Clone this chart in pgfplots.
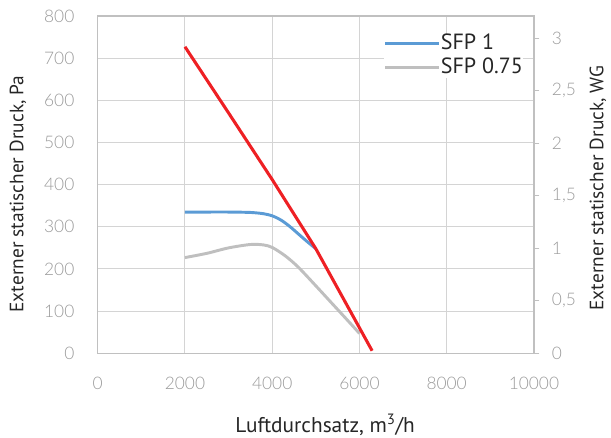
\documentclass[border=0pt]{standalone}
\usepackage{fontspec}
\setmainfont{PT Sans}
\newfontfamily\tickfont{Lato Light}
\usepackage{pgfplots}
\pgfplotsset{compat=1.18}
\definecolor{redline}{HTML}{EE2024}
\definecolor{blueline}{HTML}{5B9BD5}
\definecolor{grayline}{HTML}{BFBFBF}
\definecolor{gridc}{HTML}{D4D4D4}
\definecolor{framec}{HTML}{C0C0C0}
\definecolor{tickc}{HTML}{9A9A9A}
\definecolor{labc}{HTML}{262626}
\begin{document}
\begin{tikzpicture}
\pgfplotsset{
  base/.style={
    scale only axis, width=327.2pt, height=253pt,
    xmin=0, xmax=10000,
    /pgf/number format/assume math mode=true,
    /pgf/number format/1000 sep={},
    scaled ticks=false,
    ticklabel style={font=\tickfont\fontsize{13}{15}\selectfont, text=tickc},
    axis line style={framec, line width=0.9pt},
    label style={font=\fontsize{14.5}{16}\selectfont, text=labc},
  }
}
\begin{axis}[base,
  ymin=0, ymax=800,
  xtick={0,2000,...,10000},
  ytick={0,100,...,800},
  grid=major, major grid style={gridc, line width=0.8pt},
  tick style={draw=none},
  xticklabel shift=14pt, yticklabel shift=14pt,
  xlabel={Luftdurchsatz, m\textsuperscript{3}/h},
  ylabel={Externer statischer Druck, Pa},
  xlabel style={at={(axis description cs:0.5214,-0.2126)}, anchor=center,
    font=\fontsize{16}{18}\selectfont},
  ylabel style={at={(axis description cs:-0.1828,0.4724)}, anchor=center},
  legend style={draw=none, fill=white, font=\fontsize{16.5}{19}\selectfont, text=labc,
    at={(axis description cs:0.975,0.948)}, anchor=north east,
    inner sep=0pt, row sep=3pt,
    nodes={inner sep=0pt, text height=12pt, text depth=3pt}},
  legend cell align=left,
  legend image code/.code={\draw[#1] (-3pt,0pt) -- (37.5pt,0pt);},
]
\coordinate (sw) at (rel axis cs:0,0);
\coordinate (ne) at (rel axis cs:1,1);
\addplot[blueline, line width=2.2pt, smooth] coordinates {
  (2000,335) (2500,335) (3000,335) (3500,334) (3800,331) (4000,326)
  (4200,316) (4400,301) (4600,283) (4800,265) (5000,248)};
\addlegendentry{SFP 1}
\addplot[grayline, line width=2.2pt, smooth] coordinates {
  (2000,227) (2500,237) (3000,250) (3500,258) (3800,257) (4000,251)
  (4300,231) (4600,204) (5000,160) (5400,115) (5800,70) (6000,47)};
\addlegendentry{SFP 0.75}
\addplot[redline, line width=2.3pt, line join=round, forget plot] coordinates {
  (2000,727) (3000,570) (4000,412) (5000,248) (6290,6)};
\end{axis}
\begin{axis}[base,
  axis x line=none, axis y line*=right,
  ymin=0, ymax=3.2117,
  ytick={0,0.5,1,1.5,2,2.5,3},
  /pgf/number format/use comma,
  tick align=outside, major tick length=4pt,
  ytick style={framec, line width=0.8pt},
  yticklabel shift=6pt,
  ylabel={Externer statischer Druck, WG},
  ylabel style={at={(axis description cs:1.1467,0.49)}, anchor=center},
]
\end{axis}
\pgfresetboundingbox
\path[use as bounding box] ([shift={(-73.3pt,-63.5pt)}]sw) rectangle ([shift={(57.8pt,12pt)}]ne);
\end{tikzpicture}
\end{document}
